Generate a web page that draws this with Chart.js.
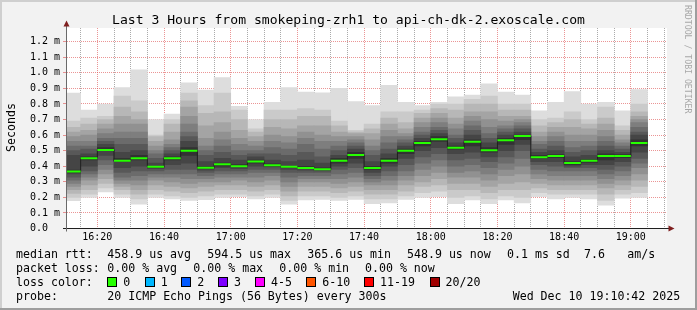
<!DOCTYPE html>
<html>
<head>
<meta charset="utf-8">
<script src="https://cdn.jsdelivr.net/npm/chart.js@4.4.1/dist/chart.umd.min.js"></script>
<style>
  html, body { margin: 0; padding: 0; background: #f2f2f2; }
  canvas { display: block; }
</style>
</head>
<body>
<canvas id="smoke" width="697" height="310"></canvas>
<script>
// end time of each 5 minute probe slot
const slotEnds = ['16:15','16:20','16:25','16:30','16:35','16:40','16:45','16:50','16:55',
  '17:00','17:05','17:10','17:15','17:20','17:25','17:30','17:35','17:40','17:45','17:50','17:55',
  '18:00','18:05','18:10','18:15','18:20','18:25','18:30','18:35','18:40','18:45','18:50','18:55',
  '19:00','19:05'];

// median rtt per slot (ms)
const medians = [0.366, 0.452, 0.505, 0.435, 0.452, 0.396, 0.452, 0.500, 0.390, 0.413,
  0.400, 0.430, 0.407, 0.396, 0.388, 0.381, 0.435, 0.472, 0.388, 0.435,
  0.500, 0.550, 0.574, 0.518, 0.557, 0.503, 0.567, 0.594, 0.458, 0.465,
  0.420, 0.435, 0.465, 0.465, 0.549];

// 20 sorted ping times per slot (ms)
const pings = [
  [0.178,0.20,0.225,0.25,0.27,0.29,0.31,0.33,0.35,0.36,0.375,0.47,0.50,0.53,0.56,0.59,0.62,0.65,0.69,0.87],
  [0.20,0.22,0.25,0.28,0.31,0.33,0.35,0.37,0.40,0.44,0.46,0.48,0.51,0.53,0.56,0.60,0.63,0.67,0.71,0.76],
  [0.235,0.26,0.29,0.32,0.35,0.38,0.41,0.44,0.47,0.50,0.52,0.54,0.56,0.58,0.61,0.64,0.67,0.70,0.72,0.80],
  [0.20,0.22,0.25,0.27,0.29,0.31,0.33,0.36,0.39,0.43,0.45,0.49,0.54,0.58,0.62,0.67,0.72,0.78,0.85,0.905],
  [0.156,0.19,0.22,0.25,0.28,0.31,0.34,0.37,0.40,0.44,0.47,0.50,0.54,0.58,0.62,0.67,0.70,0.75,0.82,1.02],
  [0.20,0.22,0.25,0.28,0.31,0.33,0.35,0.37,0.385,0.39,0.40,0.42,0.45,0.48,0.50,0.53,0.56,0.59,0.60,0.70],
  [0.19,0.21,0.24,0.27,0.30,0.33,0.35,0.38,0.41,0.44,0.46,0.48,0.50,0.52,0.54,0.57,0.62,0.67,0.70,0.735],
  [0.18,0.20,0.23,0.26,0.29,0.32,0.35,0.38,0.42,0.47,0.52,0.56,0.59,0.62,0.67,0.72,0.78,0.82,0.87,0.935],
  [0.185,0.21,0.24,0.27,0.30,0.32,0.34,0.36,0.375,0.385,0.40,0.43,0.47,0.50,0.53,0.58,0.66,0.74,0.79,0.89],
  [0.20,0.22,0.25,0.28,0.30,0.33,0.35,0.37,0.39,0.40,0.42,0.45,0.49,0.53,0.57,0.62,0.68,0.75,0.87,0.97],
  [0.205,0.22,0.25,0.28,0.31,0.33,0.35,0.37,0.385,0.395,0.41,0.44,0.47,0.50,0.54,0.58,0.63,0.70,0.76,0.785],
  [0.19,0.21,0.24,0.27,0.30,0.33,0.36,0.38,0.40,0.42,0.44,0.46,0.48,0.50,0.53,0.56,0.59,0.62,0.64,0.70],
  [0.20,0.22,0.25,0.28,0.31,0.34,0.36,0.38,0.395,0.40,0.415,0.44,0.48,0.52,0.56,0.60,0.65,0.70,0.76,0.81],
  [0.156,0.18,0.21,0.24,0.27,0.30,0.33,0.36,0.38,0.39,0.40,0.43,0.47,0.51,0.55,0.59,0.64,0.70,0.76,0.905],
  [0.183,0.21,0.24,0.27,0.30,0.32,0.34,0.36,0.375,0.385,0.40,0.44,0.49,0.54,0.58,0.62,0.66,0.72,0.77,0.876],
  [0.187,0.21,0.24,0.27,0.30,0.32,0.34,0.36,0.37,0.38,0.39,0.42,0.46,0.51,0.56,0.60,0.66,0.72,0.76,0.872],
  [0.18,0.20,0.23,0.26,0.29,0.32,0.35,0.38,0.40,0.42,0.45,0.47,0.50,0.53,0.56,0.59,0.62,0.66,0.69,0.90],
  [0.187,0.21,0.24,0.27,0.30,0.33,0.36,0.39,0.42,0.45,0.49,0.51,0.53,0.55,0.57,0.59,0.61,0.62,0.63,0.815],
  [0.16,0.19,0.22,0.25,0.28,0.30,0.32,0.34,0.36,0.38,0.40,0.43,0.47,0.50,0.53,0.57,0.61,0.64,0.67,0.79],
  [0.165,0.19,0.22,0.25,0.28,0.31,0.34,0.37,0.40,0.42,0.45,0.48,0.51,0.55,0.59,0.63,0.67,0.71,0.75,0.92],
  [0.187,0.21,0.24,0.28,0.31,0.34,0.37,0.41,0.45,0.48,0.51,0.53,0.55,0.57,0.59,0.61,0.64,0.68,0.75,0.81],
  [0.20,0.23,0.27,0.30,0.34,0.38,0.42,0.46,0.50,0.53,0.56,0.58,0.60,0.62,0.65,0.68,0.71,0.74,0.76,0.79],
  [0.205,0.24,0.28,0.32,0.36,0.40,0.44,0.48,0.52,0.56,0.59,0.61,0.63,0.65,0.68,0.71,0.74,0.77,0.80,0.81],
  [0.16,0.20,0.25,0.29,0.33,0.36,0.40,0.44,0.48,0.51,0.53,0.55,0.58,0.60,0.64,0.67,0.71,0.76,0.80,0.846],
  [0.183,0.21,0.25,0.29,0.33,0.37,0.41,0.45,0.49,0.53,0.57,0.60,0.63,0.66,0.69,0.72,0.75,0.80,0.83,0.857],
  [0.16,0.19,0.23,0.27,0.31,0.35,0.39,0.43,0.46,0.49,0.52,0.55,0.58,0.61,0.65,0.70,0.75,0.80,0.85,0.93],
  [0.183,0.21,0.25,0.29,0.34,0.38,0.42,0.46,0.50,0.54,0.58,0.60,0.62,0.64,0.66,0.69,0.72,0.76,0.80,0.876],
  [0.165,0.20,0.25,0.30,0.35,0.40,0.45,0.50,0.54,0.57,0.60,0.62,0.64,0.66,0.68,0.70,0.72,0.76,0.80,0.857],
  [0.205,0.23,0.26,0.29,0.32,0.35,0.38,0.41,0.43,0.45,0.47,0.49,0.51,0.54,0.56,0.59,0.62,0.66,0.70,0.756],
  [0.19,0.22,0.25,0.28,0.31,0.34,0.37,0.40,0.43,0.455,0.475,0.50,0.53,0.56,0.59,0.62,0.65,0.68,0.71,0.81],
  [0.20,0.22,0.25,0.28,0.31,0.34,0.37,0.39,0.40,0.41,0.43,0.46,0.49,0.52,0.56,0.60,0.65,0.70,0.75,0.88],
  [0.19,0.22,0.25,0.28,0.31,0.34,0.37,0.39,0.41,0.425,0.445,0.47,0.50,0.53,0.56,0.60,0.64,0.67,0.70,0.80],
  [0.15,0.18,0.22,0.26,0.29,0.32,0.35,0.38,0.41,0.44,0.48,0.50,0.53,0.56,0.59,0.63,0.67,0.71,0.78,0.81],
  [0.195,0.22,0.25,0.28,0.31,0.34,0.37,0.40,0.43,0.455,0.475,0.49,0.51,0.53,0.55,0.57,0.60,0.63,0.66,0.756],
  [0.20,0.23,0.27,0.31,0.35,0.39,0.42,0.45,0.49,0.53,0.57,0.60,0.62,0.65,0.68,0.70,0.72,0.75,0.80,0.893]
];

const lossLabels = ['0', '1', '2', '3', '4-5', '6-10', '11-19', '20/20'];
const lossColors = ['#26ff00', '#00b8ff', '#0059ff', '#7e00ff', '#ff00ff', '#ff5500', '#ff0000', '#a00000'];

const MONO = '"DejaVu Sans Mono", "Liberation Mono", monospace';
const MINOR = 'rgba(143,143,143,0.75)';
const MAJOR = 'rgba(222,79,79,0.6)';

// minutes after 16:00
function toMin(t) {
  const [h, m] = t.split(':').map(Number);
  return (h - 16) * 60 + m;
}
function fmtMin(v) {
  const h = 16 + Math.floor(v / 60), m = v % 60;
  return h + ':' + String(m).padStart(2, '0');
}
const centers = slotEnds.map(t => toMin(t) - 2.5);

// smokeping shading: outer band light, inner band dark
function grey(k) {
  const g = Math.floor(190 / 10 * (10 - k)) + 50;
  const hx = g.toString(16).padStart(2, '0');
  return '#' + hx + hx + hx;
}

const bands = [];
for (let k = 1; k <= 10; k++) {
  bands.push({
    type: 'bar',
    data: pings.map((p, i) => ({ x: centers[i], y: [p[k - 1], p[20 - k]] })),
    backgroundColor: grey(k),
    borderWidth: 0,
    grouped: false,
    barPercentage: 1,
    categoryPercentage: 1,
    clip: 0,
    order: 12 - k
  });
}

const medianStep = {
  type: 'line',
  data: medians.map((v, i) => ({ x: centers[i], y: v })),
  borderColor: '#202020',
  borderWidth: 1,
  stepped: 'middle',
  pointRadius: 0,
  clip: 0,
  order: 1
};

const medianLoss = {
  type: 'line',
  data: medians.map((v, i) => ({ x: centers[i], y: v })),
  showLine: false,
  pointStyle: 'line',
  pointRadius: 8.34,
  pointBorderWidth: 2,
  pointBorderColor: lossColors[0],
  pointBackgroundColor: lossColors[0],
  clip: 0,
  order: 0
};

const rrdFrame = {
  id: 'rrdFrame',
  beforeDraw(chart) {
    const { ctx, chartArea: a, width: W, height: H } = chart;
    ctx.save();
    ctx.fillStyle = '#f2f2f2';
    ctx.fillRect(0, 0, W, H);
    ctx.fillStyle = '#cfcfcf';
    ctx.fillRect(0, 0, W, 2);
    ctx.fillRect(0, 0, 2, H);
    ctx.fillStyle = '#9e9e9e';
    ctx.fillRect(0, H - 2, W, 2);
    ctx.fillRect(W - 2, 0, 2, H);
    ctx.fillStyle = '#ffffff';
    ctx.fillRect(a.left, a.top, a.right - a.left, a.bottom - a.top);
    ctx.restore();
  },
  afterDraw(chart) {
    const { ctx, chartArea: a } = chart;
    ctx.save();
    // axes
    ctx.strokeStyle = '#1f1f1f';
    ctx.lineWidth = 1;
    ctx.beginPath();
    ctx.moveTo(63, a.bottom);
    ctx.lineTo(670, a.bottom);
    ctx.stroke();
    ctx.strokeStyle = '#6a6a6a';
    ctx.beginPath();
    ctx.moveTo(a.left - 0.5, a.bottom + 3);
    ctx.lineTo(a.left - 0.5, 23);
    ctx.stroke();
    ctx.fillStyle = '#7f1f1f';
    ctx.beginPath();
    ctx.moveTo(a.left - 0.5, 20.5);
    ctx.lineTo(a.left - 3.5, 26.5);
    ctx.lineTo(a.left + 2.5, 26.5);
    ctx.closePath();
    ctx.fill();
    ctx.beginPath();
    ctx.moveTo(674.5, a.bottom);
    ctx.lineTo(668.5, a.bottom - 3);
    ctx.lineTo(668.5, a.bottom + 3);
    ctx.closePath();
    ctx.fill();

    // title
    ctx.fillStyle = '#000';
    ctx.textBaseline = 'alphabetic';
    ctx.textAlign = 'center';
    ctx.font = '13.1px ' + MONO;
    ctx.fillText('Last 3 Hours from smokeping-zrh1 to api-ch-dk-2.exoscale.com', 348.5, 24);

    // vertical label
    ctx.font = '11.6px ' + MONO;
    ctx.save();
    ctx.translate(14.5, 127.5);
    ctx.rotate(-Math.PI / 2);
    ctx.fillText('Seconds', 0, 0);
    ctx.restore();

    // watermark
    ctx.save();
    ctx.fillStyle = '#a8a8a8';
    ctx.font = '8.2px ' + MONO;
    ctx.textAlign = 'left';
    ctx.translate(685, 5);
    ctx.rotate(Math.PI / 2);
    ctx.fillText('RRDTOOL / TOBI OETIKER', 0, 0);
    ctx.restore();

    // legend
    ctx.textAlign = 'left';
    ctx.font = '11.6px ' + MONO;
    const put = (x, y, s) => ctx.fillText(s, x, y);
    put(16, 258, 'median rtt:');
    put(107.3, 258, '458.9 us avg');
    put(207.3, 258, '594.5 us max');
    put(307.3, 258, '365.6 us min');
    put(407, 258, '548.9 us now');
    put(507, 258, '0.1 ms sd');
    put(584, 258, '7.6');
    put(627.3, 258, 'am/s');

    put(16, 272, 'packet loss:');
    put(107.3, 272, '0.00 % avg');
    put(193.3, 272, '0.00 % max');
    put(279.3, 272, '0.00 % min');
    put(365, 272, '0.00 % now');

    put(16, 286, 'loss color:');
    const boxX = [108.3, 145.7, 182.3, 219, 256, 307.3, 365, 430.5];
    lossLabels.forEach((lab, i) => {
      const bx = Math.round(boxX[i]);
      ctx.fillStyle = lossColors[i];
      ctx.fillRect(bx, 278, 8, 8);
      ctx.strokeStyle = '#000';
      ctx.strokeRect(bx - 0.5, 277.5, 9, 9);
      ctx.fillStyle = '#000';
      put(boxX[i] + 15, 286, lab);
    });

    put(16, 300, 'probe:');
    put(107.3, 300, '20 ICMP Echo Pings (56 Bytes) every 300s');
    put(512.7, 300, 'Wed Dec 10 19:10:42 2025');
    ctx.restore();
  }
};

Chart.defaults.font.family = MONO;

new Chart(document.getElementById('smoke'), {
  type: 'bar',
  data: { datasets: [...bands, medianStep, medianLoss] },
  options: {
    responsive: false,
    animation: false,
    devicePixelRatio: 1,
    layout: { padding: { top: 28, right: 30, left: 0, bottom: 0 } },
    plugins: {
      legend: { display: false },
      tooltip: { enabled: false },
      title: { display: false }
    },
    scales: {
      x: {
        type: 'linear',
        min: 10.9,
        max: 190.85,
        offset: false,
        z: 1,
        afterFit: s => { s.height = 81.5; },
        grid: {
          offset: false,
          drawTicks: false,
          lineWidth: 1,
          color: c => (c.tick && c.tick.value % 20 === 0) ? MAJOR : MINOR
        },
        border: { display: false, dash: [1, 1] },
        ticks: {
          stepSize: 5,
          includeBounds: false,
          autoSkip: false,
          maxRotation: 0,
          padding: 3,
          color: '#000',
          font: { size: 10, family: MONO },
          callback: v => (v % 20 === 0 ? fmtMin(v) : '')
        }
      },
      y: {
        min: 0,
        max: 1.288,
        z: 1,
        afterFit: s => { s.width = 67; },
        grid: { color: MAJOR, lineWidth: 1, drawTicks: true, tickLength: 4 },
        border: { display: false, dash: [1, 1] },
        ticks: {
          stepSize: 0.1,
          includeBounds: false,
          autoSkip: false,
          padding: 3,
          color: '#000',
          font: { size: 10, family: MONO },
          callback: v => (Math.abs(v) < 1e-9 ? '0.0  ' : v.toFixed(1) + ' m')
        }
      }
    }
  },
  plugins: [rrdFrame]
});
</script>
</body>
</html>
